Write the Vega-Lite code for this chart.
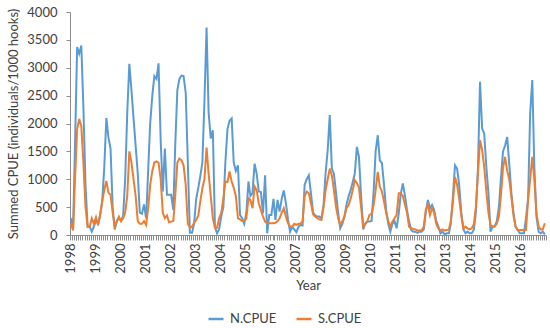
{
  "$schema": "https://vega.github.io/schema/vega-lite/v6.json",
  "width": 476,
  "height": 223,
  "autosize": {"type": "none"},
  "padding": {"left": 70, "top": 12, "right": 4, "bottom": 93},
  "background": "white",
  "config": {
    "view": {"stroke": null},
    "font": "Lato",
    "axis": {"labelFont": "Lato", "titleFont": "Lato", "labelColor": "#404040", "titleColor": "#404040", "labelFontSize": 13, "titleFontSize": 13, "titleFontWeight": "normal", "grid": false, "domainColor": "#8c8c8c", "tickColor": "#8c8c8c"},
    "legend": {"labelFont": "Lato", "labelFontSize": 13, "labelColor": "#404040"}
  },
  "data": {"values": [
{"d":"1998-01-15","N":300,"S":200},{"d":"1998-02-15","N":120,"S":80},{"d":"1998-03-15","N":1600,"S":1000},{"d":"1998-04-15","N":3370,"S":1900},{"d":"1998-05-15","N":3250,"S":2080},{"d":"1998-06-15","N":3400,"S":1950},{"d":"1998-07-15","N":2300,"S":1300},{"d":"1998-08-15","N":900,"S":500},{"d":"1998-09-15","N":150,"S":150},{"d":"1998-10-15","N":150,"S":150},{"d":"1998-11-15","N":60,"S":300},{"d":"1998-12-15","N":150,"S":200},
{"d":"1999-01-15","N":260,"S":320},{"d":"1999-02-15","N":200,"S":180},{"d":"1999-03-15","N":350,"S":350},{"d":"1999-04-15","N":600,"S":600},{"d":"1999-05-15","N":1200,"S":800},{"d":"1999-06-15","N":2100,"S":970},{"d":"1999-07-15","N":1750,"S":760},{"d":"1999-08-15","N":1550,"S":720},{"d":"1999-09-15","N":500,"S":400},{"d":"1999-10-15","N":100,"S":150},{"d":"1999-11-15","N":250,"S":250},{"d":"1999-12-15","N":300,"S":330},
{"d":"2000-01-15","N":250,"S":250},{"d":"2000-02-15","N":350,"S":300},{"d":"2000-03-15","N":1000,"S":400},{"d":"2000-04-15","N":2200,"S":700},{"d":"2000-05-15","N":3070,"S":1500},{"d":"2000-06-15","N":2600,"S":1300},{"d":"2000-07-15","N":2100,"S":1000},{"d":"2000-08-15","N":1600,"S":700},{"d":"2000-09-15","N":1100,"S":250},{"d":"2000-10-15","N":400,"S":200},{"d":"2000-11-15","N":380,"S":200},{"d":"2000-12-15","N":550,"S":250},
{"d":"2001-01-15","N":300,"S":180},{"d":"2001-02-15","N":1200,"S":500},{"d":"2001-03-15","N":2000,"S":900},{"d":"2001-04-15","N":2500,"S":1150},{"d":"2001-05-15","N":2850,"S":1300},{"d":"2001-06-15","N":2800,"S":1320},{"d":"2001-07-15","N":3080,"S":1300},{"d":"2001-08-15","N":1700,"S":1000},{"d":"2001-09-15","N":780,"S":400},{"d":"2001-10-15","N":1550,"S":300},{"d":"2001-11-15","N":720,"S":350},{"d":"2001-12-15","N":720,"S":230},
{"d":"2002-01-15","N":720,"S":240},{"d":"2002-02-15","N":450,"S":250},{"d":"2002-03-15","N":1600,"S":700},{"d":"2002-04-15","N":2600,"S":1300},{"d":"2002-05-15","N":2800,"S":1370},{"d":"2002-06-15","N":2860,"S":1340},{"d":"2002-07-15","N":2850,"S":1250},{"d":"2002-08-15","N":2550,"S":900},{"d":"2002-09-15","N":1290,"S":200},{"d":"2002-10-15","N":40,"S":130},{"d":"2002-11-15","N":40,"S":150},{"d":"2002-12-15","N":200,"S":220},
{"d":"2003-01-15","N":650,"S":270},{"d":"2003-02-15","N":850,"S":350},{"d":"2003-03-15","N":1050,"S":600},{"d":"2003-04-15","N":1300,"S":840},{"d":"2003-05-15","N":2400,"S":1000},{"d":"2003-06-15","N":3720,"S":1570},{"d":"2003-07-15","N":2200,"S":1100},{"d":"2003-08-15","N":1730,"S":700},{"d":"2003-09-15","N":1880,"S":300},{"d":"2003-10-15","N":150,"S":130},{"d":"2003-11-15","N":30,"S":130},{"d":"2003-12-15","N":100,"S":300},
{"d":"2004-01-15","N":330,"S":390},{"d":"2004-02-15","N":500,"S":650},{"d":"2004-03-15","N":1300,"S":960},{"d":"2004-04-15","N":1900,"S":950},{"d":"2004-05-15","N":2050,"S":1140},{"d":"2004-06-15","N":2090,"S":960},{"d":"2004-07-15","N":1300,"S":850},{"d":"2004-08-15","N":1150,"S":700},{"d":"2004-09-15","N":1250,"S":300},{"d":"2004-10-15","N":360,"S":280},{"d":"2004-11-15","N":300,"S":250},{"d":"2004-12-15","N":200,"S":250},
{"d":"2005-01-15","N":400,"S":300},{"d":"2005-02-15","N":960,"S":660},{"d":"2005-03-15","N":700,"S":630},{"d":"2005-04-15","N":750,"S":480},{"d":"2005-05-15","N":1280,"S":870},{"d":"2005-06-15","N":1100,"S":800},{"d":"2005-07-15","N":780,"S":570},{"d":"2005-08-15","N":770,"S":450},{"d":"2005-09-15","N":390,"S":330},{"d":"2005-10-15","N":1070,"S":240},{"d":"2005-11-15","N":30,"S":210},{"d":"2005-12-15","N":360,"S":210},
{"d":"2006-01-15","N":360,"S":210},{"d":"2006-02-15","N":650,"S":210},{"d":"2006-03-15","N":270,"S":220},{"d":"2006-04-15","N":630,"S":250},{"d":"2006-05-15","N":420,"S":300},{"d":"2006-06-15","N":650,"S":400},{"d":"2006-07-15","N":800,"S":480},{"d":"2006-08-15","N":570,"S":330},{"d":"2006-09-15","N":270,"S":210},{"d":"2006-10-15","N":60,"S":150},{"d":"2006-11-15","N":150,"S":150},{"d":"2006-12-15","N":100,"S":200},
{"d":"2007-01-15","N":50,"S":180},{"d":"2007-02-15","N":150,"S":200},{"d":"2007-03-15","N":180,"S":200},{"d":"2007-04-15","N":170,"S":250},{"d":"2007-05-15","N":900,"S":700},{"d":"2007-06-15","N":1000,"S":780},{"d":"2007-07-15","N":1070,"S":750},{"d":"2007-08-15","N":750,"S":570},{"d":"2007-09-15","N":400,"S":370},{"d":"2007-10-15","N":350,"S":330},{"d":"2007-11-15","N":330,"S":300},{"d":"2007-12-15","N":330,"S":280},
{"d":"2008-01-15","N":300,"S":270},{"d":"2008-02-15","N":540,"S":500},{"d":"2008-03-15","N":1100,"S":800},{"d":"2008-04-15","N":1520,"S":1000},{"d":"2008-05-15","N":2150,"S":1190},{"d":"2008-06-15","N":1190,"S":1070},{"d":"2008-07-15","N":1100,"S":800},{"d":"2008-08-15","N":750,"S":500},{"d":"2008-09-15","N":390,"S":300},{"d":"2008-10-15","N":120,"S":180},{"d":"2008-11-15","N":200,"S":250},{"d":"2008-12-15","N":330,"S":330},
{"d":"2009-01-15","N":550,"S":480},{"d":"2009-02-15","N":700,"S":540},{"d":"2009-03-15","N":800,"S":650},{"d":"2009-04-15","N":950,"S":800},{"d":"2009-05-15","N":1100,"S":985},{"d":"2009-06-15","N":1580,"S":930},{"d":"2009-07-15","N":1400,"S":850},{"d":"2009-08-15","N":700,"S":500},{"d":"2009-09-15","N":100,"S":150},{"d":"2009-10-15","N":200,"S":200},{"d":"2009-11-15","N":240,"S":250},{"d":"2009-12-15","N":240,"S":360},
{"d":"2010-01-15","N":250,"S":380},{"d":"2010-02-15","N":800,"S":550},{"d":"2010-03-15","N":1500,"S":800},{"d":"2010-04-15","N":1790,"S":1130},{"d":"2010-05-15","N":1340,"S":865},{"d":"2010-06-15","N":1290,"S":780},{"d":"2010-07-15","N":900,"S":600},{"d":"2010-08-15","N":450,"S":400},{"d":"2010-09-15","N":200,"S":250},{"d":"2010-10-15","N":60,"S":150},{"d":"2010-11-15","N":200,"S":240},{"d":"2010-12-15","N":250,"S":300},
{"d":"2011-01-15","N":120,"S":360},{"d":"2011-02-15","N":390,"S":750},{"d":"2011-03-15","N":720,"S":750},{"d":"2011-04-15","N":925,"S":700},{"d":"2011-05-15","N":720,"S":550},{"d":"2011-06-15","N":450,"S":400},{"d":"2011-07-15","N":250,"S":150},{"d":"2011-08-15","N":90,"S":120},{"d":"2011-09-15","N":60,"S":110},{"d":"2011-10-15","N":60,"S":100},{"d":"2011-11-15","N":40,"S":80},{"d":"2011-12-15","N":60,"S":80},
{"d":"2012-01-15","N":60,"S":80},{"d":"2012-02-15","N":100,"S":150},{"d":"2012-03-15","N":400,"S":450},{"d":"2012-04-15","N":630,"S":540},{"d":"2012-05-15","N":480,"S":360},{"d":"2012-06-15","N":540,"S":480},{"d":"2012-07-15","N":450,"S":400},{"d":"2012-08-15","N":250,"S":200},{"d":"2012-09-15","N":150,"S":120},{"d":"2012-10-15","N":30,"S":80},{"d":"2012-11-15","N":60,"S":100},{"d":"2012-12-15","N":10,"S":80},
{"d":"2013-01-15","N":30,"S":90},{"d":"2013-02-15","N":30,"S":100},{"d":"2013-03-15","N":200,"S":250},{"d":"2013-04-15","N":700,"S":600},{"d":"2013-05-15","N":1250,"S":1040},{"d":"2013-06-15","N":1190,"S":900},{"d":"2013-07-15","N":900,"S":650},{"d":"2013-08-15","N":400,"S":350},{"d":"2013-09-15","N":100,"S":120},{"d":"2013-10-15","N":30,"S":150},{"d":"2013-11-15","N":60,"S":120},{"d":"2013-12-15","N":30,"S":100},
{"d":"2014-01-15","N":30,"S":120},{"d":"2014-02-15","N":100,"S":200},{"d":"2014-03-15","N":400,"S":500},{"d":"2014-04-15","N":1200,"S":1100},{"d":"2014-05-15","N":2750,"S":1700},{"d":"2014-06-15","N":1910,"S":1520},{"d":"2014-07-15","N":1820,"S":1220},{"d":"2014-08-15","N":1220,"S":780},{"d":"2014-09-15","N":750,"S":400},{"d":"2014-10-15","N":60,"S":180},{"d":"2014-11-15","N":150,"S":150},{"d":"2014-12-15","N":150,"S":160},
{"d":"2015-01-15","N":250,"S":200},{"d":"2015-02-15","N":510,"S":330},{"d":"2015-03-15","N":1000,"S":700},{"d":"2015-04-15","N":1500,"S":1200},{"d":"2015-05-15","N":1600,"S":1400},{"d":"2015-06-15","N":1760,"S":1150},{"d":"2015-07-15","N":1280,"S":1000},{"d":"2015-08-15","N":750,"S":690},{"d":"2015-09-15","N":400,"S":350},{"d":"2015-10-15","N":150,"S":150},{"d":"2015-11-15","N":90,"S":90},{"d":"2015-12-15","N":30,"S":90},
{"d":"2016-01-15","N":30,"S":90},{"d":"2016-02-15","N":30,"S":90},{"d":"2016-03-15","N":300,"S":90},{"d":"2016-04-15","N":660,"S":630},{"d":"2016-05-15","N":2180,"S":1000},{"d":"2016-06-15","N":2780,"S":1400},{"d":"2016-07-15","N":1220,"S":985},{"d":"2016-08-15","N":330,"S":390},{"d":"2016-09-15","N":60,"S":150},{"d":"2016-10-15","N":30,"S":100},{"d":"2016-11-15","N":60,"S":100},{"d":"2016-12-15","N":10,"S":210}
  ]},
  "transform": [{"fold": ["N", "S"], "as": ["series", "value"]}],
  "mark": {"type": "line", "strokeWidth": 2, "interpolate": "linear"},
  "encoding": {
    "x": {
      "field": "d", "type": "temporal",
      "scale": {"type": "utc", "domain": [{"year": 1998, "month": 1, "date": 1, "utc": true}, {"year": 2017, "month": 1, "date": 1, "utc": true}], "nice": false},
      "axis": {
        "title": "Year", "titlePadding": 6,
        "tickCount": {"interval": "month", "step": 1},
        "labelExpr": "utcmonth(datum.value) == 0 && utcyear(datum.value) < 2017 ? utcFormat(datum.value, '%Y') : ''",
        "labelAngle": -90, "labelOverlap": false, "labelBound": false, "labelFlush": false,
        "tickSize": 5, "labelPadding": 3
      }
    },
    "y": {
      "field": "value", "type": "quantitative",
      "scale": {"domain": [0, 4000], "nice": false},
      "axis": {"title": "Summed CPUE (individuals/1000 hooks)", "format": "d", "values": [0,500,1000,1500,2000,2500,3000,3500,4000], "tickSize": 4, "labelPadding": 9, "titlePadding": 6, "domain": true}
    },
    "color": {
      "field": "series", "type": "nominal",
      "scale": {"domain": ["N", "S"], "range": ["#5B9BD5", "#ED7D31"]},
      "legend": {"title": null, "orient": "none", "legendX": 137, "legendY": 298, "direction": "horizontal", "symbolType": "stroke", "symbolSize": 225, "symbolStrokeWidth": 2.5, "labelExpr": "datum.label + '.CPUE'", "columnPadding": 14, "labelOffset": 5}
    }
  }
}
